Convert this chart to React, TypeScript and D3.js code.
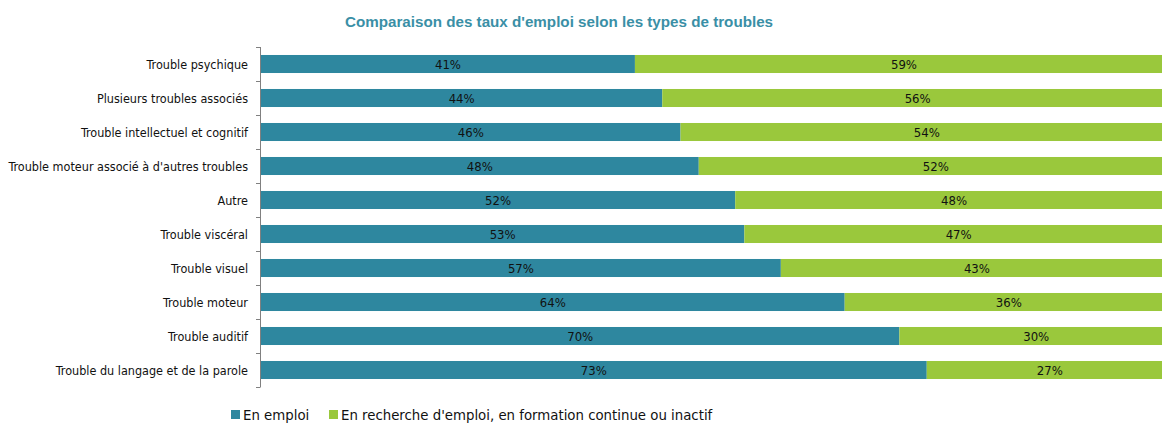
import React from "react";
import * as d3 from "d3";

const categories = [
  "Trouble psychique",
  "Plusieurs troubles associés",
  "Trouble intellectuel et cognitif",
  "Trouble moteur associé à d'autres troubles",
  "Autre",
  "Trouble viscéral",
  "Trouble visuel",
  "Trouble moteur",
  "Trouble auditif",
  "Trouble du langage et de la parole",
];
const enEmploi = [41, 44, 46, 48, 52, 53, 57, 64, 70, 73];
const enRecherche = [59, 56, 54, 52, 48, 47, 43, 36, 30, 27];
const seriesNames = ["En emploi", "En recherche d'emploi, en formation continue ou inactif"];
const colors = ["#2E879F", "#9AC83C"];

const W = 1162;
const H = 423;
const labelFont = "'DejaVu Sans Condensed', 'Liberation Sans Narrow', Arial, sans-serif";

export default function App() {
  const x = d3.scaleLinear().domain([0, 100]).range([261, 1173]);
  const y = d3.scaleBand().domain(categories).range([47, 387]).paddingInner(0.47).paddingOuter(0.235);
  const band = d3.scaleBand().domain(categories).range([47, 387]);
  const series = [enEmploi, enRecherche];

  return (
    <svg width={W} height={H} style={{ position: "absolute", left: 0, top: 0, background: "#fff" }}>
      <text x={559} y={27} textAnchor="middle" fontFamily="Liberation Sans, Arial, sans-serif" fontWeight="bold" fontSize={15.2} fill="#3A8FA6">
        Comparaison des taux d'emploi selon les types de troubles
      </text>
      {categories.map((c, i) => {
        let acc = 0;
        return (
          <g key={c}>
            {series.map((s, k) => {
              const x0 = x(acc);
              acc += s[i];
              const x1 = x(acc);
              return (
                <g key={k}>
                  <rect x={x0} y={y(c)!} width={x1 - x0} height={y.bandwidth()} fill={colors[k]} />
                  <text x={(x0 + x1) / 2} y={y(c)! + y.bandwidth() / 2 + 4.5} textAnchor="middle" fontFamily={labelFont} fontSize={13} fill="#111">
                    {s[i]}%
                  </text>
                </g>
              );
            })}
            <text x={248} y={band(c)! + band.bandwidth() / 2 + 4.5} textAnchor="end" fontFamily={labelFont} fontSize={12.5} fill="#111">
              {c}
            </text>
          </g>
        );
      })}
      <line x1={260.5} x2={260.5} y1={47} y2={387} stroke="#808080" strokeWidth={1} />
      {d3.range(categories.length + 1).map((j) => {
        const yy = Math.round(47 + j * band.step()) + 0.5;
        return <line key={j} x1={256} x2={260.5} y1={yy} y2={yy} stroke="#808080" strokeWidth={1} />;
      })}
      <g>
        <rect x={231} y={410} width={9} height={9} fill={colors[0]} />
        <text x={243} y={420} fontFamily={labelFont} fontSize={14.8} fill="#111">{seriesNames[0]}</text>
        <rect x={329} y={410} width={9} height={9} fill={colors[1]} />
        <text x={341} y={420} fontFamily={labelFont} fontSize={14.8} fill="#111">{seriesNames[1]}</text>
      </g>
    </svg>
  );
}
